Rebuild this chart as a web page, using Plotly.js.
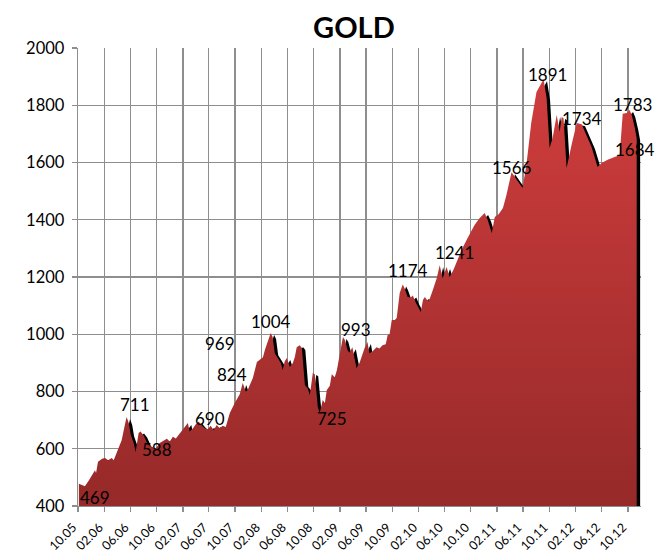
<!DOCTYPE html>
<html><head><meta charset="utf-8">
<script src="https://cdn.plot.ly/plotly-3.0.1.min.js"></script>
<style>html,body{margin:0;padding:0;background:#fff}#chart{width:659px;height:557px}</style>
</head><body><div id="chart"></div>
<script>
const dates = [
'2005-10-05','2005-10-19','2005-11-02','2005-11-21','2005-12-05','2005-12-19','2005-12-24',
'2006-01-02','2006-01-21','2006-02-04','2006-02-18','2006-03-07','2006-03-16','2006-03-30',
'2006-04-13','2006-04-22','2006-05-06','2006-05-15','2006-05-25','2006-06-03','2006-06-17',
'2006-06-26','2006-07-10','2006-07-19','2006-08-03','2006-08-21','2006-09-09','2006-09-27',
'2006-10-16','2006-11-04','2006-11-18','2006-12-02','2006-12-16','2006-12-30','2007-01-13',
'2007-01-27','2007-02-10','2007-02-24','2007-03-04','2007-03-18','2007-04-01','2007-04-15',
'2007-04-29','2007-05-13','2007-05-27','2007-06-10','2007-06-24','2007-07-08','2007-07-22',
'2007-08-05','2007-08-19','2007-09-07','2007-09-30','2007-10-23','2007-11-06','2007-11-20',
'2007-11-29','2007-12-09','2007-12-23','2008-01-11','2008-01-25','2008-02-08','2008-02-17',
'2008-03-01','2008-03-15','2008-03-24','2008-04-03','2008-04-17','2008-05-01','2008-05-10',
'2008-05-19','2008-05-29','2008-06-12','2008-06-26','2008-07-05','2008-07-14','2008-07-28',
'2008-08-07','2008-08-21','2008-09-04','2008-09-13','2008-09-27','2008-10-06','2008-10-20',
'2008-10-29','2008-11-12','2008-11-22','2008-12-01','2008-12-15','2008-12-24','2009-01-07',
'2009-01-17','2009-02-01','2009-02-14','2009-02-23','2009-03-07','2009-03-16','2009-03-30',
'2009-04-09','2009-04-18','2009-05-02','2009-05-11','2009-05-25','2009-06-08','2009-06-17',
'2009-07-01','2009-07-20','2009-08-03','2009-08-17','2009-09-01','2009-09-10','2009-09-19',
'2009-09-29','2009-10-13','2009-10-22','2009-11-05','2009-11-19','2009-11-28','2009-12-12',
'2009-12-26','2010-01-05','2010-01-19','2010-01-28','2010-02-11','2010-02-21','2010-03-02',
'2010-03-16','2010-03-25','2010-04-08','2010-04-26','2010-05-10','2010-05-24','2010-06-11',
'2010-06-25','2010-07-13','2010-08-01','2010-08-20','2010-09-12','2010-10-01','2010-10-19',
'2010-11-11','2010-12-05','2010-12-19','2011-01-07','2011-01-21','2011-02-09','2011-02-28',
'2011-03-16','2011-04-09','2011-05-02','2011-05-30','2011-06-17','2011-07-10','2011-08-03',
'2011-08-26','2011-09-05','2011-09-19','2011-10-03','2011-10-17','2011-11-05','2011-11-19',
'2011-11-28','2011-12-07','2011-12-21','2012-01-13','2012-02-06','2012-02-29','2012-03-22',
'2012-04-15','2012-05-13','2012-06-01','2012-06-29','2012-07-31','2012-08-24','2012-09-07',
'2012-09-26','2012-10-09','2012-10-19','2012-11-02','2012-11-11'
];
const prices = [
478,472,469,490,508,525,515,
555,565,568,560,568,560,585,
610,630,680,711,690,650,620,
589,655,660,645,615,606,600,
620,628,635,625,642,636,650,
660,675,690,660,670,685,695,
682,672,668,680,665,683,672,
680,676,725,760,790,830,800,
805,823,847,903,910,920,945,
975,1004,990,934,917,900,875,
905,917,886,900,920,955,962,
952,823,810,788,865,860,746,
725,770,760,805,820,860,850,
875,934,990,980,945,935,955,
915,882,900,920,950,973,934,
940,955,950,962,965,997,1000,
1050,1050,1057,1144,1174,1160,1130,
1128,1135,1110,1095,1078,1120,1130,
1115,1125,1155,1196,1241,1196,1235,
1200,1225,1259,1295,1329,1355,1382,
1405,1424,1400,1354,1410,1420,1441,
1486,1566,1539,1511,1591,1741,1846,
1881,1891,1825,1651,1686,1766,1707,
1759,1755,1581,1661,1738,1734,1696,
1654,1584,1598,1610,1619,1626,1770,
1773,1783,1766,1721,1684
];
const tickLabels = ['10.05','02.06','06.06','10.06','02.07','06.07','10.07','02.08','06.08','10.08','02.09',
  '06.09','10.09','02.10','06.10','10.10','02.11','06.11','10.11','02.12','06.12','10.12'];
const labelTexts  = ['469','711','588','690','969','824','1004','725','993','1174','1241','1566','1891','1734','1783','1684'];
const labelDates  = ['2005-12-21','2006-06-22','2006-10-03','2007-06-05','2007-07-21','2007-09-16','2008-03-15','2008-12-24',
  '2009-04-14','2009-12-12','2010-07-18','2011-04-09','2011-09-24','2012-02-29','2012-10-23','2012-11-02'];
const labelLevels = [431,753,599,704,966,858,1043,704,1015,1221,1287,1581,1909,1755,1804,1644];

const tickVals = tickLabels.map(t => { const p = t.split('.'); return '20' + p[1] + '-' + p[0] + '-01'; });
function shiftDate(s, days) { const d = new Date(s + 'T00:00:00Z'); d.setUTCDate(d.getUTCDate() + days); return d.toISOString().slice(0, 10); }
const shadowX = dates.map(d => shiftDate(d, 16));
const shadowY = prices.map(v => v - 7);

const grid = '#8e8e8e';
const traces = [
  {x: shadowX, y: shadowY, type: 'scatter', mode: 'lines', fill: 'tozeroy', fillcolor: '#000000',
   line: {width: 0, color: '#000000'}, hoverinfo: 'skip', showlegend: false},
  {x: dates, y: prices, type: 'scatter', mode: 'lines', fill: 'tozeroy', showlegend: false,
   line: {width: 0, color: '#b83434'},
   fillgradient: {type: 'vertical', start: 400, stop: 1900, colorscale: [[0, '#962929'], [1, '#d03d3d']]}}
];
const annotations = labelTexts.map((t, i) => ({
  x: labelDates[i], y: labelLevels[i], text: t, showarrow: false, xanchor: 'center', yanchor: 'middle',
  font: {family: 'Lato', size: 17, color: '#000'}
}));
const layout = {
  width: 659, height: 557,
  margin: {l: 78, r: 18, t: 48, b: 51},
  paper_bgcolor: '#fff', plot_bgcolor: '#fff',
  title: {text: '<b>GOLD</b>', font: {family: 'Lato', size: 29, color: '#000'},
          x: 0.537, xref: 'container', xanchor: 'center', y: 0.95, yref: 'container', yanchor: 'middle'},
  xaxis: {type: 'date', range: ['2005-10-01', '2012-12-01'], tickvals: tickVals, ticktext: tickLabels,
          tickangle: -45, ticks: 'outside', ticklen: 5, tickcolor: grid, tickwidth: 1.3,
          showgrid: true, gridcolor: grid, gridwidth: 1.3, showline: true, linecolor: grid, linewidth: 1.3,
          zeroline: false, tickfont: {family: 'Lato', size: 12.5, color: '#000'},
          ticklabelstandoff: 3, ticklabelshift: -5},
  yaxis: {range: [400, 2000], tick0: 400, dtick: 200, ticks: 'outside', ticklen: 5, tickcolor: grid, tickwidth: 1.3,
          showgrid: true, gridcolor: grid, gridwidth: 1.3, showline: true, linecolor: grid, linewidth: 1.3,
          zeroline: false, tickfont: {family: 'Lato', size: 16.5, color: '#000'}, ticklabelstandoff: 4},
  annotations: annotations
};
Plotly.newPlot('chart', traces, layout, {displayModeBar: false, staticPlot: true});
</script></body></html>
